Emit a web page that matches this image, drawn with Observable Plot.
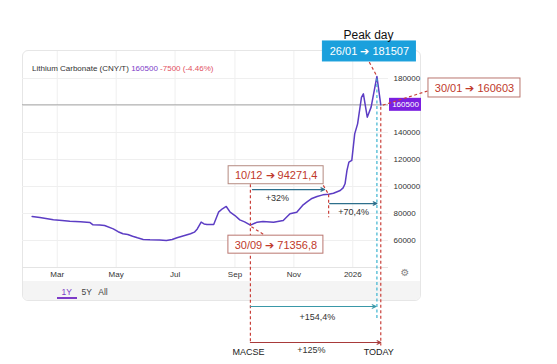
<!DOCTYPE html>
<html>
<head>
<meta charset="utf-8">
<script src="https://cdn.jsdelivr.net/npm/d3@7"></script>
<script src="https://cdn.jsdelivr.net/npm/@observablehq/plot@0.6"></script>
<style>
html,body{margin:0;padding:0;background:#fff;}
#wrap{position:relative;width:557px;height:364px;overflow:hidden;font-family:"Liberation Sans",Arial,sans-serif;}
#widget{position:absolute;left:22px;top:50px;width:399px;height:251px;border:1px solid #e6e6e6;border-radius:6px;box-sizing:border-box;}
#band{position:absolute;left:23px;top:281px;width:397px;height:19px;background:#f4f4f4;border-radius:0 0 5px 5px;}
#title{position:absolute;left:32px;top:63.5px;font-size:8px;line-height:10px;color:#333;white-space:nowrap;z-index:2;}
#title .p{color:#7d3cc8;}
#title .c{color:#e2505f;}
.rng{position:absolute;top:287px;font-size:8.5px;line-height:10px;color:#444;transform:translateX(-50%);z-index:2;}
#ul{position:absolute;left:57px;top:297px;width:20px;height:2px;background:#7d3cc8;z-index:2;}
#gear{position:absolute;left:405px;top:273px;font-size:10px;line-height:10px;color:#888;transform:translate(-50%,-50%);font-family:"DejaVu Sans";z-index:2;}
#chart{position:absolute;left:0;top:0;z-index:1;}
</style>
</head>
<body>
<div id="wrap">
  <div id="widget"></div>
  <div id="band"></div>
  <div id="title"></div>
  <div id="ranges"></div>
  <div id="ul"></div>
  <div id="gear">⚙</div>
  <div id="chart"></div>
</div>
<script>
// ---------- data ----------
const instrument = "Lithium Carbonate (CNY/T)";
const lastPrice = 160500;
const dayChange = -7500;
const dayChangePct = -4.46;
const ranges = ["1Y", "5Y", "All"];

const dates = [
  "2025-02-03","2025-02-11","2025-02-25","2025-03-06","2025-03-14","2025-03-25",
  "2025-04-04","2025-04-07","2025-04-14","2025-04-19","2025-04-28","2025-05-03",
  "2025-05-08","2025-05-13","2025-05-18","2025-05-23","2025-05-29","2025-06-05",
  "2025-06-15","2025-06-22","2025-06-28","2025-07-03","2025-07-10","2025-07-17",
  "2025-07-21","2025-07-24","2025-07-28","2025-07-31","2025-08-03","2025-08-10",
  "2025-08-15","2025-08-19","2025-08-23","2025-08-27","2025-09-01","2025-09-06",
  "2025-09-11","2025-09-17","2025-09-24","2025-09-30","2025-10-11","2025-10-21",
  "2025-10-28","2025-11-04","2025-11-10","2025-11-15","2025-11-19","2025-11-25",
  "2025-12-01","2025-12-07","2025-12-12","2025-12-19","2025-12-22","2025-12-24",
  "2025-12-26","2025-12-28","2025-12-31","2026-01-03","2026-01-06","2026-01-10",
  "2026-01-12","2026-01-16","2026-01-20","2026-01-26","2026-01-28","2026-01-30"
];
const prices = [
  77800, 77000, 75300, 74800, 74300, 73800,
  73300, 71600, 71400, 71100, 68600, 66500,
  65000, 64500, 63200, 62000, 60800, 60500,
  60300, 60000, 60800, 62000, 63500, 65000,
  66200, 68600, 73600, 72300, 71900, 71900,
  81000, 83500, 85200, 81000, 78500, 75300,
  73800, 71356.8, 73600, 74000, 73600, 74800,
  79800, 81000, 86000, 88800, 90900, 92600,
  93800, 94271.4, 95000, 97000, 99000, 102000,
  112000, 118000, 119300, 139000, 146400, 166000,
  168600, 151300, 158800, 181507, 171000, 160500
];

const tickDates = ["2025-03-01","2025-05-01","2025-07-01","2025-09-01","2025-11-01","2026-01-01"];
const tickLabels = ["Mar","May","Jul","Sep","Nov","2026"];
const yTicks = [60000, 80000, 100000, 120000, 140000, 160000, 180000];

const eventDates = ["2025-09-17","2025-12-07","2026-01-26","2026-01-30"];
const eventValues = [71356.8, 94271.4, 181507, 160603];
const eventLabels = ["30/09 ➔ 71356,8","10/12 ➔ 94271,4","26/01 ➔ 181507","30/01 ➔ 160603"];
const changeLabels = ["+32%","+70,4%","+154,4%","+125%"];
const endLabels = ["MACSE","TODAY"];
const peakTitle = "Peak day";

// ---------- layout ----------
const W = 557, H = 364;
const mL = 22, mR = 169, mT = 44.25, mB = 97;
const yDomain = [40000, 205000];
const gridTop = 200000;
const xDomain = [new Date("2025-01-24"), new Date("2026-02-07")];
const xs = d3.scaleUtc(xDomain, [mL, W - mR]);
const ys = d3.scaleLinear(yDomain, [H - mB, mT]);
const base = ys(yDomain[0]);

const series = dates.map((d, i) => ({date: new Date(d), price: prices[i]}));
const ev = eventDates.map((d, i) => ({date: new Date(d), value: eventValues[i], label: eventLabels[i]}));
const [A, B, Pk, T] = ev;
const tickObjs = tickDates.map(d => new Date(d));

const X = (e, dx) => xs.invert(xs(e.date) + dx);
const Yv = (e, dy) => ys.invert(ys(e.value) + dy);
const Yb = (dy) => ys.invert(base + dy);

// HTML parts of the widget
document.getElementById("title").innerHTML =
  `${instrument} <span class="p">${lastPrice}</span> <span class="c">${dayChange} (${dayChangePct.toFixed(2)}%)</span>`;
const rx = [66.7, 86.7, 103];
document.getElementById("ranges").innerHTML = ranges.map((r, i) =>
  `<div class="rng" style="left:${rx[i]}px;${i === 0 ? "color:#7d3cc8" : ""}">${r}</div>`).join("");

// ---------- marks ----------
const RED = "#c9403a", CYAN = "#3bb4d0", TEAL = "#2d6f8c", TEAL2 = "#3a98a8", DRED = "#a83a3a";
const FONT = "Liberation Sans, Arial, sans-serif";
const marks = [];

// grid
marks.push(Plot.ruleY(yTicks, {stroke: "#efefef", strokeWidth: 1}));
marks.push(Plot.ruleX(tickObjs, {y1: yDomain[0], y2: gridTop, stroke: "#efefef"}));
marks.push(Plot.ruleY([yDomain[0]], {stroke: "#e4e4e4"}));

// last price line
marks.push(Plot.ruleY([lastPrice], {stroke: "#a8a8a8", strokeWidth: 1}));

// the series
marks.push(Plot.line(series, {x: "date", y: "price", stroke: "#5c3dc4", strokeWidth: 1.5}));

// axes
marks.push(Plot.axisX({ticks: tickObjs, tickFormat: d => tickLabels[tickObjs.findIndex(t => +t === +d)],
  tickSize: 0, tickPadding: 4, fontSize: 8, label: null}));
marks.push(Plot.axisY({anchor: "right", ticks: yTicks, tickFormat: d3.format("d"),
  tickSize: 0, tickPadding: 5, fontSize: 8, label: null}));

// last price badge
marks.push(Plot.rect([{}], {x1: xs.invert(W - mR + 1), x2: xs.invert(W - mR + 33),
  y1: ys.invert(ys(lastPrice) + 6.5), y2: ys.invert(ys(lastPrice) - 6.5), fill: "#7b1fe0"}));
marks.push(Plot.text([String(lastPrice)], {x: xs.invert(W - mR + 17), y: lastPrice, text: d => d,
  fill: "#fff", fontSize: 8}));

// vertical dashed guides
const dash = {strokeDasharray: "3,2.5", strokeWidth: 1.2};
const vlinks = [
  {x1: X(A, 0), y1: Yv(B, -10), x2: X(A, 0), y2: Yb(75), c: RED},
  {x1: X(B, 0), y1: Yv(B, 0), x2: X(B, 0), y2: Yv(B, 23), c: RED},
  {x1: X(T, 0), y1: Yv(T, 2), x2: X(T, 0), y2: Yb(78), c: RED},
  {x1: X(Pk, 0), y1: Yv(Pk, 2), x2: X(Pk, 0), y2: Yb(53), c: CYAN}
];
for (const l of vlinks) marks.push(Plot.link([l], {x1: "x1", y1: "y1", x2: "x2", y2: "y2", stroke: l.c, ...dash}));

// connectors from points to boxes
const conns = [
  {x1: X(A, 1), y1: Yv(A, 1.5), x2: X(A, 15), y2: Yv(A, 10.5)},
  {x1: X(B, -1), y1: Yv(B, -1.5), x2: X(B, -6), y2: Yv(B, -10)},
  {x1: X(Pk, -1), y1: Yv(Pk, -2), x2: X(Pk, -8), y2: Yv(Pk, -15)},
  {x1: X(T, 2), y1: Yv(T, 0.5), x2: X(T, 47.7), y2: Yv(T, -14)}
];
marks.push(Plot.link(conns, {x1: "x1", y1: "y1", x2: "x2", y2: "y2", stroke: RED, ...dash}));

// change arrows
const arrows = [
  {x1: X(A, 2), x2: X(B, -4), y: Yv(B, -4.7), c: TEAL},
  {x1: X(B, 1), x2: X(Pk, 0), y: Yv(B, 9.3), c: TEAL},
  {x1: X(A, 0), x2: X(Pk, -1), y: Yb(39), c: TEAL2},
  {x1: X(A, 0), x2: X(T, 0), y: Yb(75), c: DRED}
];
for (const a of arrows) marks.push(Plot.arrow([a], {x1: "x1", x2: "x2", y1: "y", y2: "y",
  stroke: a.c, strokeWidth: 1.2, headLength: 5, headAngle: 50}));

const changePos = [
  {x: X(A, 27), y: Yv(B, 3.5)},
  {x: X(B, 25), y: Yv(B, 17.5)},
  {x: X(A, 67), y: Yb(50)},
  {x: X(A, 61), y: Yb(83)}
];
marks.push(Plot.text(changePos.map((p, i) => ({...p, t: changeLabels[i]})),
  {x: "x", y: "y", text: "t", fill: "#333", fontSize: 9, fontFamily: FONT}));
marks.push(Plot.text([{x: X(A, -2), y: Yb(85), t: endLabels[0]}, {x: X(T, -2), y: Yb(85), t: endLabels[1]}],
  {x: "x", y: "y", text: "t", fill: "#222", fontSize: 9, fontFamily: FONT}));

// annotation boxes
const boxSpec = [
  {e: A, b: [-22, 73, 10.5, 28.5], fill: "#fff", stroke: "#b9766f", color: "#c0392b"},
  {e: B, b: [-100, -5, -28, -10], fill: "#fff", stroke: "#b58a80", color: "#c0392b"},
  {e: Pk, b: [-54, 39, -35, -15], fill: "#1ba0dc", stroke: "#1ba0dc", color: "#fff"},
  {e: T, b: [47.7, 139.7, -26.2, -7.2], fill: "#fff", stroke: "#b9766f", color: "#c0392b"}
];
for (const s of boxSpec) {
  const r = {x1: X(s.e, s.b[0]), x2: X(s.e, s.b[1]), y1: Yv(s.e, s.b[2]), y2: Yv(s.e, s.b[3])};
  marks.push(Plot.rect([r], {x1: "x1", x2: "x2", y1: "y1", y2: "y2", fill: s.fill, stroke: s.stroke, strokeWidth: 1}));
  marks.push(Plot.text([{x: X(s.e, (s.b[0] + s.b[1]) / 2), y: Yv(s.e, (s.b[2] + s.b[3]) / 2 + 0.5), t: s.e.label}],
    {x: "x", y: "y", text: "t", fill: s.color, fontSize: 11, fontFamily: FONT}));
}
marks.push(Plot.text([{x: X(Pk, -8.4), y: Yv(Pk, -41.5), t: peakTitle}],
  {x: "x", y: "y", text: "t", fill: "#111", fontSize: 12, fontFamily: FONT}));

const chart = Plot.plot({
  width: W, height: H,
  marginLeft: mL, marginRight: mR, marginTop: mT, marginBottom: mB,
  x: {type: "utc", domain: xDomain, label: null},
  y: {domain: yDomain, label: null},
  style: {background: "transparent", color: "#333", fontFamily: FONT, fontSize: "8px", overflow: "visible"},
  marks
});
document.getElementById("chart").appendChild(chart);
</script>
</body>
</html>
